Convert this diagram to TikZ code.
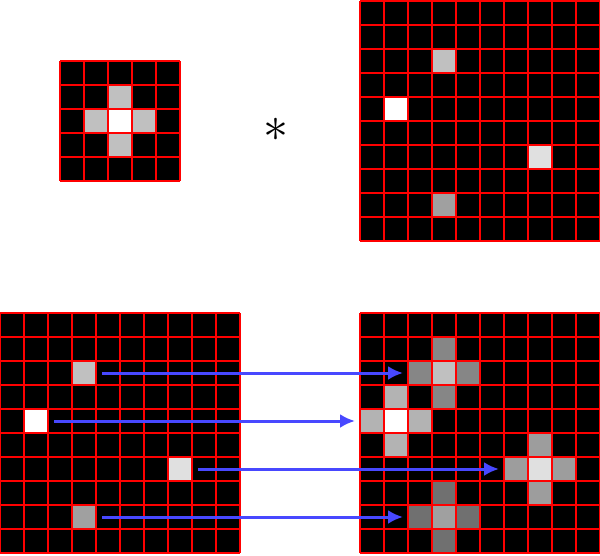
\documentclass[tikz,border=0pt]{standalone}
\usetikzlibrary{arrows.meta}

\definecolor{arrowblue}{RGB}{72,72,255}
\definecolor{pixA}{RGB}{192,192,192}
\definecolor{pixB}{RGB}{255,255,255}
\definecolor{pixC}{RGB}{224,224,224}
\definecolor{pixD}{RGB}{160,160,160}
\definecolor{armA}{RGB}{134,134,134}
\definecolor{armB}{RGB}{179,179,179}
\definecolor{armC}{RGB}{157,157,157}
\definecolor{armD}{RGB}{112,112,112}

\begin{document}
\begin{tikzpicture}[
  x=1pt, y=1pt,
  pix/.style={
    rectangle,
    minimum size=24pt,
    inner sep=0pt,
    outer sep=0pt
  },
  gridline/.style={red, line width=1.2pt},
  arrow/.style={-{Latex[length=15pt,width=14pt]}, arrowblue, line width=3pt,
    shorten <=6pt, shorten >=5pt}
]
\useasboundingbox (0,0) rectangle (600,555);

% kernel
\fill[black] (60,374) rectangle (180,494);
\node[pix, fill=white] (k0) at (120,434) {};
\node[pix, fill=pixA] (kw) at (96,434) {};
\node[pix, fill=pixA] (ke) at (144,434) {};
\node[pix, fill=pixA] (kn) at (120,458) {};
\node[pix, fill=pixA] (ks) at (120,410) {};
\draw[gridline, shift={(60,374)}] (0,0) grid[step=24pt] (120,120);

\node[scale=5, inner sep=0pt] (conv) at (276,425) {$\ast$};

% image
\fill[black] (360,314) rectangle (600,554);
\node[pix, fill=pixA] (img1) at (444,494) {};
\node[pix, fill=pixB] (img2) at (396,446) {};
\node[pix, fill=pixC] (img3) at (540,398) {};
\node[pix, fill=pixD] (img4) at (444,350) {};
\draw[gridline, shift={(360,314)}] (0,0) grid[step=24pt] (240,240);

% input points
\fill[black] (0,2) rectangle (240,242);
\node[pix, fill=pixA] (in1) at (84,182) {};
\node[pix, fill=pixB] (in2) at (36,134) {};
\node[pix, fill=pixC] (in3) at (180,86) {};
\node[pix, fill=pixD] (in4) at (84,38) {};
\draw[gridline, shift={(0,2)}] (0,0) grid[step=24pt] (240,240);

% output: one kernel copy per point
\fill[black] (360,2) rectangle (600,242);
\node[pix, fill=pixA] (out1) at (444,182) {};
\node[pix, fill=armA] (out1w) at (420,182) {};
\node[pix, fill=armA] (out1e) at (468,182) {};
\node[pix, fill=armA] (out1n) at (444,206) {};
\node[pix, fill=armA] (out1s) at (444,158) {};

\node[pix, fill=pixB] (out2) at (396,134) {};
\node[pix, fill=armB] (out2w) at (372,134) {};
\node[pix, fill=armB] (out2e) at (420,134) {};
\node[pix, fill=armB] (out2n) at (396,158) {};
\node[pix, fill=armB] (out2s) at (396,110) {};

\node[pix, fill=pixC] (out3) at (540,86) {};
\node[pix, fill=armC] (out3w) at (516,86) {};
\node[pix, fill=armC] (out3e) at (564,86) {};
\node[pix, fill=armC] (out3n) at (540,110) {};
\node[pix, fill=armC] (out3s) at (540,62) {};

\node[pix, fill=pixD] (out4) at (444,38) {};
\node[pix, fill=armD] (out4w) at (420,38) {};
\node[pix, fill=armD] (out4e) at (468,38) {};
\node[pix, fill=armD] (out4n) at (444,62) {};
\node[pix, fill=armD] (out4s) at (444,14) {};
\draw[gridline, shift={(360,2)}] (0,0) grid[step=24pt] (240,240);

\draw[arrow] (in1.east) -- (out1w.west);
\draw[arrow] (in2.east) -- (out2w.west);
\draw[arrow] (in3.east) -- (out3w.west);
\draw[arrow] (in4.east) -- (out4w.west);

\end{tikzpicture}
\end{document}
